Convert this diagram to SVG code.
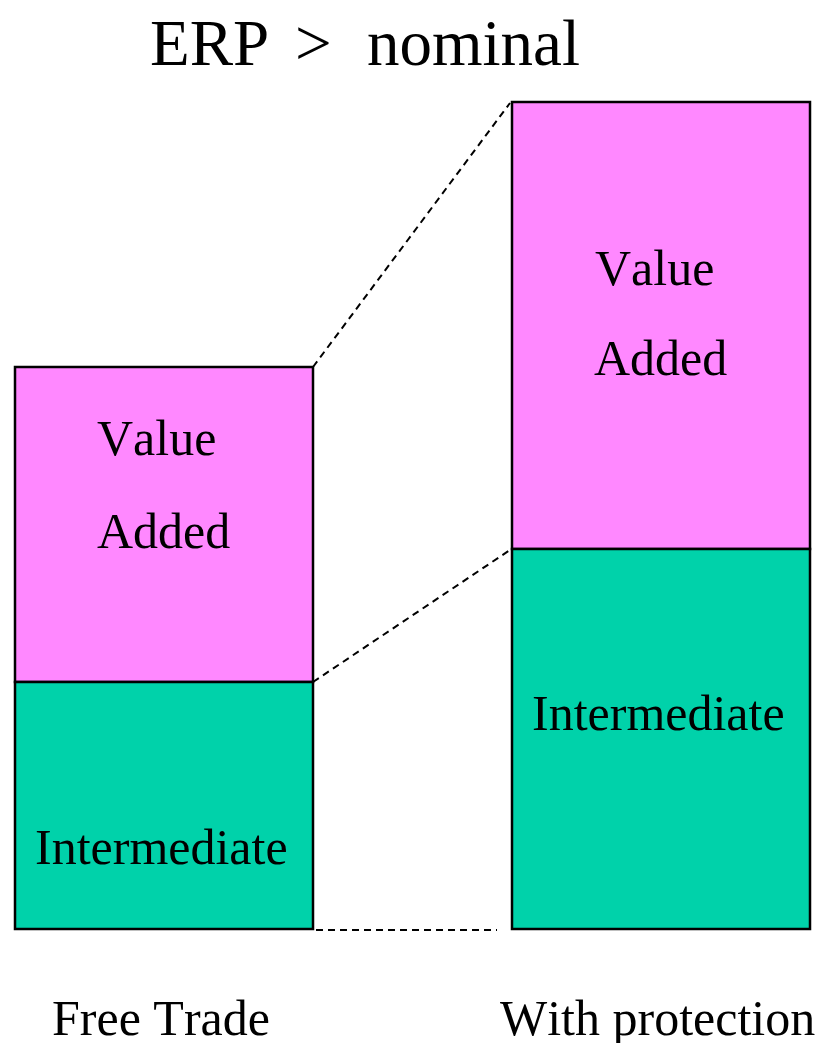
<svg xmlns="http://www.w3.org/2000/svg" width="825" height="1043" viewBox="0 0 825 1043">
<style>
text{font-family:"Liberation Serif","Times New Roman",serif;fill:#000;font-kerning:none}
.lbl{font-size:50px}
.title{font-size:65px}
.va{fill:#FF88FF;stroke:#000;stroke-width:2.5}
.im{fill:#00D2AA;stroke:#000;stroke-width:2.5}
.dash{stroke:#000;stroke-width:2;stroke-dasharray:7,5;fill:none}
</style>
<rect width="825" height="1043" fill="#fff"/>
<g id="title">
<text class="title" x="150" y="65">ERP</text>
<text class="title" x="295" y="65">&gt;</text>
<text class="title" x="367" y="65">nominal</text>
</g>
<g id="connectors">
<line class="dash" x1="313" y1="367" x2="510" y2="103"/>
<line class="dash" x1="313" y1="682" x2="510" y2="550"/>
<line class="dash" x1="316" y1="930" x2="497" y2="930"/>
</g>
<g id="free-va">
<rect class="va" x="15" y="367" width="298" height="315"/>
<text class="lbl" x="97" y="455">Value</text>
<text class="lbl" x="97" y="548">Added</text>
</g>
<g id="free-im">
<rect class="im" x="15" y="682" width="298" height="247"/>
<text class="lbl" x="35" y="864">Intermediate</text>
</g>
<g id="prot-va">
<rect class="va" x="512" y="102" width="298" height="447"/>
<text class="lbl" x="595" y="285">Value</text>
<text class="lbl" x="594" y="375">Added</text>
</g>
<g id="prot-im">
<rect class="im" x="512" y="549" width="298" height="380"/>
<text class="lbl" x="532" y="730">Intermediate</text>
</g>
<g id="captions">
<text class="lbl" x="52" y="1035">Free Trade</text>
<text class="lbl" x="500" y="1035">With protection</text>
</g>
</svg>
